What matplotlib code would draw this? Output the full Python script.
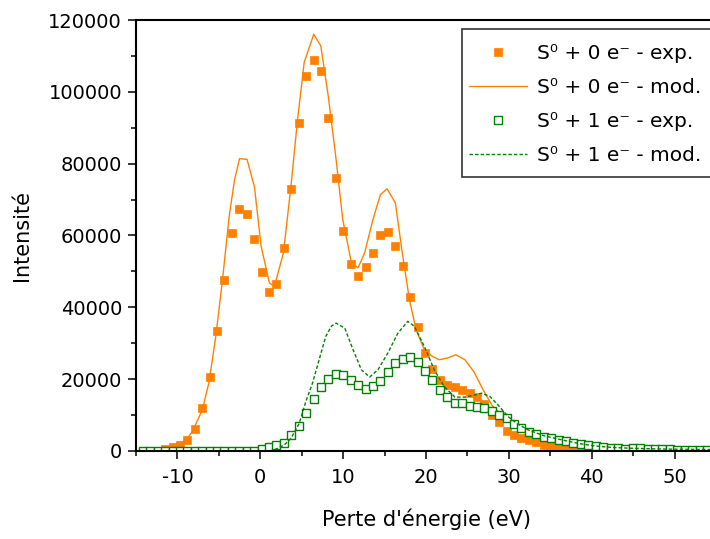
import matplotlib
matplotlib.use("Agg")
import matplotlib.pyplot as plt
from matplotlib.ticker import MultipleLocator, FuncFormatter
from matplotlib.patches import Rectangle

plt.rcParams['font.family'] = ['DejaVu Sans']

# Experimental energy grid (eV)
x_exp = [-14.18, -13.28, -12.38, -11.49, -10.59, -9.70, -8.80, -7.90, -7.01, -6.11,
         -5.22, -4.32, -3.42, -2.53, -1.63, -0.74, 0.16, 1.06, 1.95, 2.85,
         3.74, 4.64, 5.54, 6.43, 7.33, 8.22, 9.12, 10.02, 10.91, 11.81,
         12.70, 13.60, 14.50, 15.39, 16.29, 17.18, 18.08, 18.98, 19.87, 20.77,
         21.66, 22.56, 23.46, 24.35, 25.25, 26.14, 27.04, 27.94, 28.83, 29.73,
         30.62, 31.52, 32.42, 33.31, 34.21, 35.10, 36.00, 36.90, 37.79, 38.69,
         39.58, 40.48, 41.38, 42.27, 43.17, 44.06, 44.96, 45.86, 46.75, 47.65,
         48.54, 49.44, 50.34, 51.23, 52.13, 53.02, 53.92]

# S0 + 0 e- experimental (starts at x_exp[3])
y0_exp = [600, 1000, 1700, 3000, 6000, 11900, 20600,
          33300, 47700, 60800, 67400, 66000, 59000, 49700, 44200, 46500, 56400,
          73000, 91300, 104400, 109000, 105900, 92800, 76000, 61300, 52100, 48700,
          51100, 55200, 60000, 60900, 57200, 51400, 43000, 34400, 27400, 22800,
          19800, 18400, 17900, 17000, 16100, 15000, 13100, 10000, 8000, 5600,
          4500, 3600, 3000, 2400, 1800, 1400, 1100, 900, 700, 500,
          300]

# S0 + 1 e- experimental
y1_exp = [0, 0, 0, 0, 0, 0, 0, 0, 0, 0,
          0, 0, 0, 0, 0, 0, 500, 1200, 1700, 2300,
          4500, 7000, 10500, 14400, 17800, 20000, 21400, 21200, 19800, 18400,
          17200, 18100, 19400, 22100, 24500, 25600, 26100, 24700, 22400, 19800,
          17000, 15000, 13500, 13300, 12600, 12200, 11900, 11000, 10000, 9100,
          7500, 6300, 5400, 4700, 4000, 3500, 3100, 2800, 2300, 2000,
          1700, 1400, 1000, 900, 750, 650, 750, 750, 550, 450,
          450, 450, 300, 300, 300, 300, 300]

# S0 + 0 e- model
x0_mod = [-15, -13, -12, -11, -10, -9, -8.2, -7, -6.2, -5.4, -4.6, -3.75, -3.1, -2.5,
          -1.6, -0.7, 0.1, 1.1, 1.7, 2.8, 3.7, 4.5, 5.3, 6.45, 7.3, 8.2, 9.15, 9.95,
          11.0, 11.8, 12.6, 13.6, 14.5, 15.3, 16.3, 17.2, 18.0, 18.8, 19.8, 20.8,
          21.6, 22.6, 23.6, 24.7, 25.8, 26.9, 28.0, 29.0, 30, 31, 32, 34, 36, 38,
          40, 42, 45, 50, 55]
y0_mod = [0, 200, 500, 1000, 1800, 3000, 5400, 11400, 19000, 31400, 46800, 65400, 75600, 81400,
          81200, 73500, 57000, 46800, 45800, 55200, 73700, 92300, 108200, 116000, 112800, 98900, 81200, 64500,
          52400, 51000, 55200, 64500, 71400, 73000, 69100, 54200, 42100, 33800, 28200, 26300,
          25400, 25900, 26800, 25400, 22000, 17000, 12600, 10300, 8300, 6600, 5200, 3300, 2000, 1200,
          700, 400, 200, 50, 0]

# S0 + 1 e- model
x1_mod = [-15, 0, 1.0, 1.7, 2.9, 3.7, 4.7, 5.5, 6.3, 7.1, 7.9, 8.6, 9.15, 10.2, 11.2, 12.2,
          13.2, 14.2, 15.4, 16.6, 17.8, 18.6, 19.8, 21.0, 22.2, 23.5, 24.7, 25.9, 26.7, 27.7,
          28.7, 29.9, 31, 32.3, 34.3, 36.4, 38.4, 40.4, 42.4, 44.4, 46.4, 48.5, 52.5, 55]
y1_mod = [0, 0, 0, 300, 1700, 3500, 7700, 13800, 18900, 25400, 31900, 34800, 35600, 34200, 28200, 22600,
          20600, 22600, 27300, 32800, 36100, 34700, 29100, 22600, 17900, 15000, 15000, 15600, 16100, 15200,
          12800, 9600, 7600, 5900, 4200, 3100, 2100, 1400, 1000, 800, 650, 550, 450, 400]

labels = ["S\u2070 + 0 e\u207b - exp.", "S\u2070 + 0 e\u207b - mod.",
          "S\u2070 + 1 e\u207b - exp.", "S\u2070 + 1 e\u207b - mod."]

W, H = 710, 539
fig = plt.figure(figsize=(W / 100, H / 100), dpi=100)
ax = fig.add_axes([136 / W, (H - 451) / H, (716 - 136) / W, (451 - 20) / H])

orange = '#FF8000'
green = '#008000'

ax.plot(x_exp[3:3 + len(y0_exp)], y0_exp, ls='none', marker='s', ms=6.3,
        mfc=orange, mec=orange, mew=0.5, label=labels[0])
ax.plot(x0_mod, y0_mod, color=orange, lw=1.0, label=labels[1])
ax.plot(x_exp, y1_exp, ls='none', marker='s', ms=5.8, mfc='white', mec=green,
        mew=1.0, label=labels[2])
ax.plot(x1_mod, y1_mod, color=green, lw=1.0, ls=(0, (2.5, 1.5)), label=labels[3])

ax.set_xlim(-15, 55)
ax.set_ylim(0, 120000)
ax.xaxis.set_major_locator(MultipleLocator(10))
ax.xaxis.set_minor_locator(MultipleLocator(5))
ax.yaxis.set_major_locator(MultipleLocator(20000))
ax.yaxis.set_minor_locator(MultipleLocator(10000))
ax.yaxis.set_major_formatter(FuncFormatter(lambda v, p: f"{int(round(v))}"))
ax.xaxis.set_major_formatter(FuncFormatter(lambda v, p: f"{int(round(v))}"))

for s in ax.spines.values():
    s.set_linewidth(1.5)
ax.spines['right'].set_visible(False)

ax.tick_params(which='major', direction='out', length=6, width=1.1, labelsize=14, pad=4)
ax.tick_params(which='minor', direction='out', length=3.5, width=1.1)
ax.tick_params(axis='x', which='major', pad=6)

ax.set_xlabel("Perte d'énergie (eV)", fontsize=15, labelpad=16)
ax.set_ylabel("Intensité", fontsize=15, labelpad=12)

# legend frame drawn separately (extends past the right edge like the reference)
frame = Rectangle((462 / W, 1 - 177 / H), 270 / W, (177 - 29) / H,
                  transform=fig.transFigure, facecolor='white', edgecolor='#333333',
                  linewidth=1.2, clip_on=False, zorder=4.9)
ax.add_patch(frame)

leg = ax.legend(loc='upper left', bbox_to_anchor=(462 / W, 1 - 37 / H),
                bbox_transform=fig.transFigure, borderaxespad=0, fontsize=14.5,
                frameon=False, handlelength=2.9, handletextpad=0.45,
                labelspacing=0.75, borderpad=0.35)
leg.set_zorder(5)

fig.savefig('out.png', dpi=100)
